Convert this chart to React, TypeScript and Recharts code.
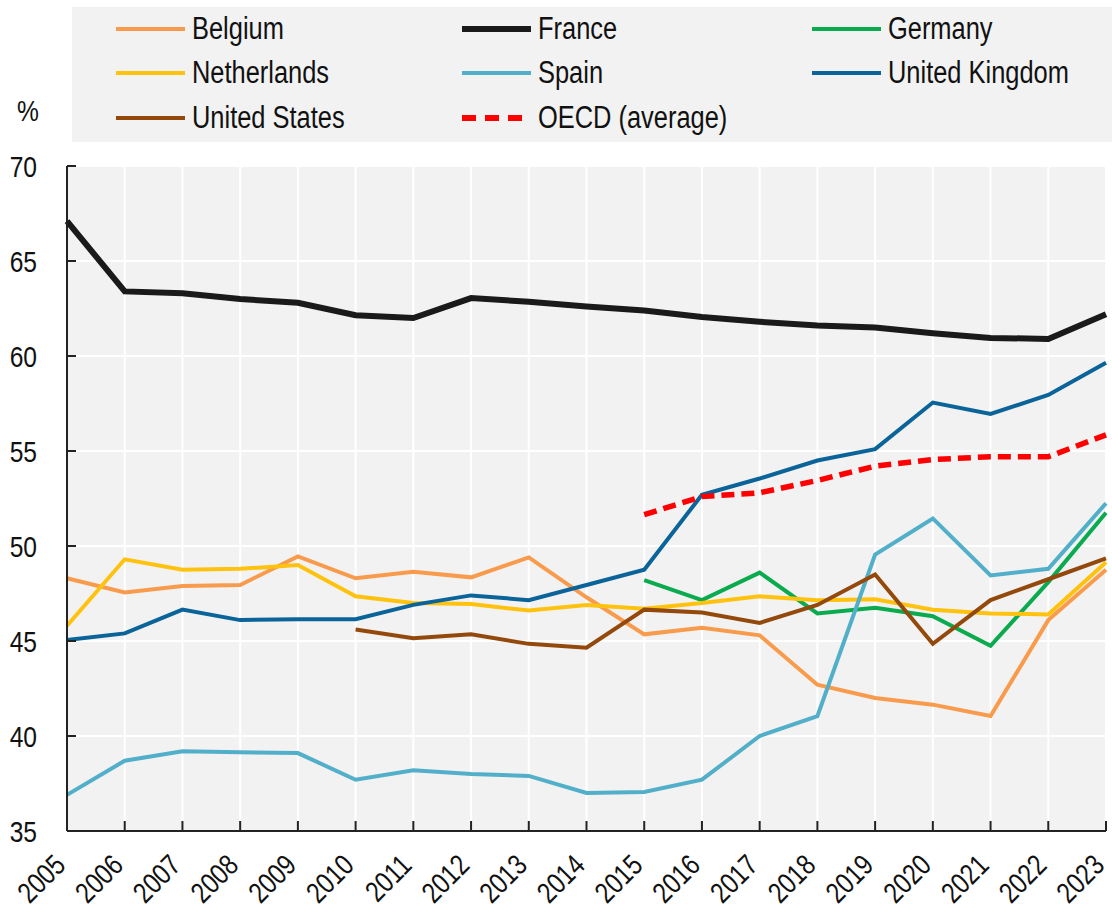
import { CartesianGrid, Line, LineChart, XAxis, YAxis } from 'recharts';

const years = [
  '2005', '2006', '2007', '2008', '2009', '2010', '2011', '2012', '2013', '2014',
  '2015', '2016', '2017', '2018', '2019', '2020', '2021', '2022', '2023',
];

const belgium = [48.3, 47.55, 47.9, 47.95, 49.45, 48.3, 48.65, 48.35, 49.4, 47.3, 45.35, 45.7, 45.3, 42.7, 42.0, 41.65, 41.05, 46.1, 48.75];
const france = [67.1, 63.4, 63.3, 63.0, 62.8, 62.15, 62.0, 63.05, 62.85, 62.6, 62.4, 62.05, 61.8, 61.6, 61.5, 61.2, 60.95, 60.9, 62.2];
const germany = [null, null, null, null, null, null, null, null, null, null, 48.2, 47.15, 48.6, 46.45, 46.75, 46.3, 44.75, 48.1, 51.75];
const netherlands = [45.8, 49.3, 48.75, 48.8, 49.0, 47.35, 47.0, 46.95, 46.6, 46.9, 46.7, 47.0, 47.35, 47.15, 47.2, 46.65, 46.45, 46.4, 49.15];
const spain = [36.9, 38.7, 39.2, 39.15, 39.1, 37.7, 38.2, 38.0, 37.9, 37.0, 37.05, 37.7, 40.0, 41.05, 49.55, 51.45, 48.45, 48.8, 52.25];
const unitedKingdom = [45.05, 45.4, 46.65, 46.1, 46.15, 46.15, 46.9, 47.4, 47.15, 47.95, 48.75, 52.7, 53.55, 54.5, 55.1, 57.55, 56.95, 57.95, 59.65];
const unitedStates = [null, null, null, null, null, 45.6, 45.15, 45.35, 44.85, 44.65, 46.65, 46.5, 45.95, 46.9, 48.5, 44.85, 47.15, 48.25, 49.35];
const oecd = [null, null, null, null, null, null, null, null, null, null, 51.65, 52.6, 52.8, 53.45, 54.2, 54.55, 54.7, 54.7, 55.85];

const yTicks = [35, 40, 45, 50, 55, 60, 65, 70];

const series = [
  { key: 'belgium', name: 'Belgium', values: belgium, color: '#f99b4c', width: 4 },
  { key: 'france', name: 'France', values: france, color: '#1a1a1a', width: 6 },
  { key: 'germany', name: 'Germany', values: germany, color: '#0aaa4f', width: 4 },
  { key: 'netherlands', name: 'Netherlands', values: netherlands, color: '#ffc20e', width: 4 },
  { key: 'spain', name: 'Spain', values: spain, color: '#52afc9', width: 4 },
  { key: 'uk', name: 'United Kingdom', values: unitedKingdom, color: '#0a6499', width: 4 },
  { key: 'us', name: 'United States', values: unitedStates, color: '#94490c', width: 4 },
  { key: 'oecd', name: 'OECD (average)', values: oecd, color: '#ff0000', width: 5.5, dash: '13 7' },
];

const data = years.map((year, i) => {
  const row: Record<string, string | number | null> = { year };
  series.forEach((s) => {
    row[s.key] = s.values[i];
  });
  return row;
});

// no narrow face installed, so squeeze Liberation Sans horizontally instead
const FONT = '"Liberation Sans", Arial, sans-serif';
const SQUEEZE = 0.82;
const AXIS = '#222';

function XTick({ x, y, payload }: any) {
  return (
    <g>
      <line x1={x} x2={x} y1={y} y2={y - 10} stroke={AXIS} strokeWidth={2} />
      <g transform={`translate(${x} ${y + 36}) rotate(-45) scale(${SQUEEZE} 1)`}>
        <text x={0} y={0} textAnchor="end" fontFamily={FONT} fontSize={29} fill="#111">
          {payload.value}
        </text>
      </g>
    </g>
  );
}

function YTick({ x, y, payload }: any) {
  return (
    <g>
      <line x1={x} x2={x + 9} y1={y} y2={y} stroke={AXIS} strokeWidth={2} />
      <g transform={`translate(${x - 30} ${y}) scale(${SQUEEZE} 1)`}>
        <text x={0} y={0} dy="0.36em" textAnchor="end" fontFamily={FONT} fontSize={30} fill="#111">
          {payload.value}
        </text>
      </g>
    </g>
  );
}

const legendCols = [115, 461, 811];
const legendRows = [29, 73, 118];

export default function App() {
  return (
    <div style={{ position: 'relative', width: 1112, height: 917, background: '#fff', fontFamily: FONT }}>
      <style>{'body{margin:0;}'}</style>
      <div
        style={{
          position: 'absolute',
          left: 72,
          top: 7,
          width: 1040,
          height: 135,
          background: '#f2f2f2',
        }}
      />
      {series.map((s, i) => {
        const left = legendCols[i % 3];
        const top = legendRows[Math.floor(i / 3)];
        return (
          <div key={s.key} style={{ position: 'absolute', left, top: top - 20, height: 40, display: 'flex', alignItems: 'center' }}>
            <svg width={72} height={12} style={{ display: 'block' }}>
              <line
                x1={1}
                x2={70}
                y1={6}
                y2={6}
                stroke={s.color}
                strokeWidth={s.key === 'france' ? 6 : s.dash ? 6 : 4}
                strokeDasharray={s.dash ? '14 9' : undefined}
              />
            </svg>
            <span
              style={{
                display: 'inline-block',
                marginLeft: 5,
                fontSize: 31,
                color: '#111',
                whiteSpace: 'nowrap',
                transform: `scaleX(${SQUEEZE})`,
                transformOrigin: 'left center',
              }}
            >
              {s.name}
            </span>
          </div>
        );
      })}
      <div
        style={{
          position: 'absolute',
          left: 17,
          top: 94,
          fontSize: 30,
          color: '#111',
          transform: `scaleX(${SQUEEZE})`,
          transformOrigin: 'left center',
        }}
      >
        %
      </div>
      <div style={{ position: 'absolute', left: 0, top: 0 }}>
        <LineChart width={1112} height={917} data={data} margin={{ top: 166, right: 6, bottom: 0, left: 0 }}>
          <CartesianGrid fill="#f2f2f2" stroke="#ffffff" strokeWidth={2} />
          <XAxis
            dataKey="year"
            interval={0}
            height={86}
            tickSize={0}
            tickMargin={0}
            tickLine={false}
            axisLine={{ stroke: AXIS, strokeWidth: 2 }}
            tick={<XTick />}
          />
          <YAxis
            domain={[35, 70]}
            ticks={yTicks}
            width={67}
            tickSize={0}
            tickMargin={0}
            tickLine={false}
            axisLine={{ stroke: AXIS, strokeWidth: 2 }}
            tick={<YTick />}
            allowDataOverflow
          />
          {series.map((s) => (
            <Line
              key={s.key}
              type="linear"
              dataKey={s.key}
              name={s.name}
              stroke={s.color}
              strokeWidth={s.width}
              strokeDasharray={s.dash}
              dot={false}
              activeDot={false}
              isAnimationActive={false}
            />
          ))}
        </LineChart>
      </div>
    </div>
  );
}
